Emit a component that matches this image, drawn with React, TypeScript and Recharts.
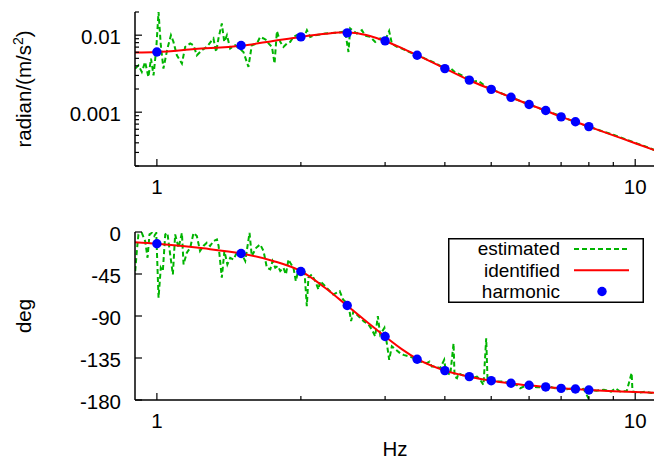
import React from "react";
import { ComposedChart, Line, XAxis, YAxis, Legend } from "recharts";

const FONT = "'Liberation Sans', Arial, Helvetica, sans-serif";
const FS = 20.5;
const LEGEND_FS = 19;
const GREEN = "#00b400";
const RED = "#ff0000";
const BLUE = "#0000ff";

const FREQ_TICKS = [1, 2, 3, 4, 5, 6, 7, 8, 9, 10];
const FREQ_LABELS = [1, 10];
const MAG_TICKS = [
  0.0002, 0.0003, 0.0004, 0.0005, 0.0006, 0.0007, 0.0008, 0.0009, 0.001,
  0.002, 0.003, 0.004, 0.005, 0.006, 0.007, 0.008, 0.009, 0.01, 0.02,
];
const MAG_LABELS = [0.001, 0.01];
const PHASE_TICKS = [-180, -135, -90, -45, 0];

const HARM_FREQ = [1, 1.5, 2, 2.5, 3, 3.5, 4, 4.5, 5, 5.5, 6, 6.5, 7, 7.5, 8];
const HARM_MAG = [
  0.00605, 0.00734, 0.0095, 0.01071, 0.00843, 0.00548, 0.00368, 0.00261,
  0.00198, 0.00156, 0.00126, 0.00105, 0.00087, 0.00075, 0.00065,
];
const HARM_PHASE = [
  -12.6, -23, -42.3, -78.8, -112, -136.3, -148.5, -155, -159.3, -162, -164.2,
  -166, -167.5, -168.2, -169.3,
];

// identified model response
const ID_MAG: [number, number][] = [
  [0.9, 0.00595], [1.0, 0.00605], [1.2, 0.0066], [1.5, 0.0073], [1.75, 0.0084],
  [2.0, 0.0095], [2.25, 0.0104], [2.4, 0.0108], [2.5, 0.01085], [2.6, 0.0107],
  [2.8, 0.0097], [3.0, 0.0084], [3.25, 0.0068], [3.5, 0.0055], [4.0, 0.0037],
  [4.5, 0.0026], [5.0, 0.00198], [5.5, 0.00156], [6.0, 0.00126], [6.5, 0.00105],
  [7.0, 0.00087], [7.5, 0.00075], [8.0, 0.00065], [9.0, 0.0005], [10.0, 0.000395],
  [11.0, 0.00032],
];
const ID_PHASE: [number, number][] = [
  [0.9, -11], [1.0, -12.6], [1.25, -17.5], [1.5, -23], [1.75, -31], [2.0, -42],
  [2.25, -60], [2.5, -79], [2.75, -96.5], [3.0, -112], [3.25, -125.5], [3.5, -136],
  [4.0, -148.5], [4.5, -155], [5.0, -159.3], [5.5, -162.2], [6.0, -164.3],
  [6.5, -166], [7.0, -167.4], [7.5, -168.4], [8.0, -169.3], [9.0, -170.6],
  [10.0, -171.5], [11.0, -172.2],
];

// estimated (noisy) response
const EST_MAG: [number, number][] = [
  [0.901, 0.00368], [0.915, 0.00406], [0.93, 0.00333], [0.945, 0.00449],
  [0.96, 0.00286], [0.972, 0.00497], [0.984, 0.00301], [0.997, 0.00671],
  [1.008, 0.02], [1.019, 0.00741], [1.032, 0.00368], [1.052, 0.00671],
  [1.07, 0.01], [1.083, 0.00818], [1.101, 0.00548], [1.128, 0.00428],
  [1.146, 0.00705], [1.174, 0.0078], [1.193, 0.00741], [1.212, 0.00548],
  [1.242, 0.00637], [1.272, 0.00705], [1.313, 0.00906], [1.33, 0.00605],
  [1.345, 0.00906], [1.367, 0.01422], [1.383, 0.00818], [1.401, 0.01],
  [1.423, 0.00671], [1.458, 0.00741], [1.517, 0.00605], [1.554, 0.00387],
  [1.579, 0.00741], [1.619, 0.0078], [1.644, 0.0095], [1.671, 0.00906],
  [1.698, 0.0086], [1.712, 0.0078], [1.74, 0.00705], [1.762, 0.00428],
  [1.782, 0.01128], [1.811, 0.00818], [1.839, 0.00705], [1.87, 0.0078],
  [1.9, 0.00818], [1.93, 0.0095], [1.962, 0.01], [2.025, 0.00906],
  [2.059, 0.01162], [2.092, 0.0095], [2.143, 0.01], [2.194, 0.0102],
  [2.248, 0.0105], [2.322, 0.0107], [2.397, 0.0108], [2.475, 0.0113],
  [2.515, 0.00605], [2.536, 0.01222], [2.576, 0.0113], [2.619, 0.0105],
  [2.683, 0.01162], [2.726, 0.0098], [2.792, 0.0095], [2.86, 0.00818],
  [2.93, 0.00906], [3.001, 0.0086], [3.059, 0.0113], [3.099, 0.0078],
  [3.176, 0.00705], [3.252, 0.00671], [3.4, 0.0059], [3.6, 0.0051],
  [3.8, 0.0044], [4.0, 0.0037], [4.1, 0.0038], [4.2, 0.0033], [4.4, 0.0029],
  [4.6, 0.0025], [4.7, 0.00255], [4.9, 0.0021], [5.2, 0.0018], [5.5, 0.00156],
  [5.8, 0.00137], [6.1, 0.00122], [6.4, 0.00108], [6.8, 0.00095], [7.2, 0.00082],
  [7.6, 0.00072], [8.0, 0.00065], [8.5, 0.00057], [9.0, 0.00051], [9.5, 0.00045],
  [10.0, 0.0004], [10.5, 0.00036], [11.0, 0.00032],
];
const EST_PHASE: [number, number][] = [
  [0.901, -41.9], [0.908, -20.4], [0.915, -2.6], [0.93, -1], [0.945, -9.7],
  [0.956, -27.6], [0.965, -2.6], [0.976, -1], [0.987, -4.3], [0.997, -1],
  [1.008, -70.5], [1.019, -38.3], [1.029, -41.9], [1.041, -2.6], [1.052, -1],
  [1.066, -24], [1.08, -45.5], [1.092, -2.6], [1.11, -16.9], [1.128, -1],
  [1.137, -34.7], [1.155, -22.2], [1.174, -16.9], [1.193, -1], [1.212, -4.3],
  [1.231, -20.4], [1.251, -15], [1.272, -11.5], [1.292, -15], [1.313, -9.7],
  [1.335, -7.9], [1.346, -15], [1.367, -49], [1.384, -20.4], [1.404, -34.7],
  [1.423, -27.6], [1.446, -29.4], [1.469, -22.2], [1.493, -20.4], [1.53, -31.1],
  [1.562, -1], [1.579, -25.8], [1.613, -16.9], [1.644, -13.3], [1.671, -20.4],
  [1.698, -38.3], [1.726, -40.1], [1.745, -31.1], [1.768, -38.3], [1.79, -36.5],
  [1.811, -41.9], [1.839, -38.3], [1.861, -45.5], [1.884, -29.4], [1.9, -33],
  [1.93, -38.3], [1.952, -52.6], [1.977, -40.1], [2.009, -45.5], [2.036, -43.7],
  [2.058, -79.4], [2.074, -49], [2.108, -45.5], [2.143, -52.6], [2.177, -61.6],
  [2.194, -52.6], [2.248, -58], [2.282, -61.6], [2.337, -67], [2.373, -65.2],
  [2.411, -63.4], [2.45, -72.3], [2.515, -77.7], [2.547, -95.5], [2.576, -84.8],
  [2.64, -90.2], [2.705, -95.5], [2.771, -99.2], [2.815, -104.5], [2.86, -111.7],
  [2.897, -90.2], [2.93, -109.9], [2.99, -102.7], [3.024, -118.8], [3.06, -137],
  [3.099, -122.4], [3.226, -129.9], [3.278, -131.7], [3.385, -133.5],
  [3.552, -138.9], [3.667, -140.6], [3.715, -138.9], [3.757, -144.2],
  [3.818, -144.2], [3.911, -146], [3.987, -137], [4.02, -149.6], [4.105, -153.2],
  [4.171, -119.2], [4.191, -155], [4.24, -156.7], [4.272, -151.4], [4.342, -153.2],
  [4.448, -155], [4.556, -156.7], [4.667, -155], [4.742, -158.5], [4.818, -163.9],
  [4.881, -113.8], [4.912, -158.5], [5.017, -160.3], [5.139, -160.3],
  [5.305, -160.3], [5.479, -162.1], [5.657, -163.9], [5.749, -167.4],
  [5.888, -165], [6.032, -165.7], [6.23, -166.4], [6.4, -166.5], [6.6, -165.5],
  [6.8, -167.5], [7.0, -167], [7.2, -168.5], [7.4, -167.5], [7.6, -169],
  [7.8, -168], [7.98, -178], [8.05, -169.5], [8.3, -170], [8.6, -169],
  [8.9, -171], [9.1, -167.5], [9.3, -171], [9.6, -170.5], [9.83, -151],
  [9.87, -171], [10.2, -172], [10.5, -171], [10.8, -172.5], [11.0, -172],
];

const pts = (arr: [number, number][]) => arr.map(([f, v]) => ({ f, v }));
const harm = (vals: number[]) => HARM_FREQ.map((f, i) => ({ f, v: vals[i] }));

const axisLine = { stroke: "#000", strokeWidth: 1.5 };

// gnuplot-style ticks: pointing inward, labels only on major ticks
function axisTick(side: string, labels: number[]) {
  return (p: any) => {
    const v = p.payload.value;
    const major = labels.includes(v);
    const len = major ? 7 : 4;
    const { x, y } = p;
    let l = [x, y, x, y - len];
    if (side === "top") l = [x, y, x, y + len];
    if (side === "left") l = [x, y, x + len, y];
    if (side === "right") l = [x, y, x - len, y];
    return (
      <g>
        <line x1={l[0]} y1={l[1]} x2={l[2]} y2={l[3]} stroke="#000" strokeWidth={1.2} />
        {major && side === "bottom" && (
          <text x={x} y={y + 28} textAnchor="middle" fontFamily={FONT} fontSize={FS} fill="#000">
            {v}
          </text>
        )}
        {major && side === "left" && (
          <text x={x - 14} y={y + 9} textAnchor="end" fontFamily={FONT} fontSize={FS} fill="#000">
            {v}
          </text>
        )}
      </g>
    );
  };
}

function yTitle(kind: "mag" | "phase") {
  return (p: any) => {
    const vb = p.viewBox;
    const cy = vb.y + vb.height / 2;
    return (
      <text x={31} y={cy} transform={`rotate(-90 31 ${cy})`} textAnchor="middle" fontFamily={FONT} fontSize={FS} fill="#000">
        {kind === "mag" ? (
          <>
            radian/(m/s<tspan dy={-8} fontSize={14}>2</tspan>
            <tspan dy={8}>)</tspan>
          </>
        ) : (
          "deg"
        )}
      </text>
    );
  };
}

function xTitle(p: any) {
  const vb = p.viewBox;
  return (
    <text x={vb.x + vb.width / 2} y={vb.y + 56} textAnchor="middle" fontFamily={FONT} fontSize={FS} fill="#000">
      Hz
    </text>
  );
}

function LegendBox() {
  const tx = 112;
  return (
    <svg width={196} height={65} style={{ display: "block", overflow: "visible" }}>
      <rect x={0.75} y={0.75} width={194.5} height={63.5} fill="none" stroke="#000" strokeWidth={1.5} />
      <g fontFamily={FONT} fontSize={LEGEND_FS} fill="#000" textAnchor="end">
        <text x={tx} y={17.4}>estimated</text>
        <text x={tx} y={38.7}>identified</text>
        <text x={tx} y={60}>harmonic</text>
      </g>
      <line x1={126} x2={181} y1={11} y2={11} stroke={GREEN} strokeWidth={2} strokeDasharray="5 3" />
      <line x1={126} x2={181} y1={32.2} y2={32.2} stroke={RED} strokeWidth={2} />
      <circle cx={154} cy={53.5} r={4.7} fill={BLUE} />
    </svg>
  );
}

export default function App() {
  const xCommon = {
    dataKey: "f",
    type: "number" as const,
    scale: "log" as const,
    domain: [0.9, 11],
    allowDataOverflow: true,
    ticks: FREQ_TICKS,
    interval: 0 as const,
    tickSize: 0,
    tickMargin: 0,
    tickLine: false,
    axisLine,
  };
  const dot = { r: 4.7, fill: BLUE, stroke: "none", strokeWidth: 0 };

  return (
    <div
      style={{
        position: "fixed",
        left: 0,
        top: 0,
        width: 654,
        height: 459,
        overflow: "hidden",
        background: "#fff",
        fontFamily: FONT,
      }}
    >
      <div style={{ position: "absolute", left: 0, top: 0 }}>
        <ComposedChart width={660} height={200} margin={{ top: 12, right: 5, bottom: 0, left: 0 }}>
          <XAxis {...xCommon} xAxisId="b" orientation="bottom" height={34} tick={axisTick("bottom", FREQ_LABELS)} />
          <XAxis {...xCommon} xAxisId="t" orientation="top" height={0} tick={axisTick("top", FREQ_LABELS)} />
          <YAxis
            yAxisId="l"
            type="number"
            scale="log"
            domain={[0.0002, 0.02]}
            allowDataOverflow
            ticks={MAG_TICKS}
            interval={0}
            tickSize={0}
            tickMargin={0}
            tickLine={false}
            axisLine={axisLine}
            width={135}
            tick={axisTick("left", MAG_LABELS)}
            label={yTitle("mag")}
          />
          <YAxis
            yAxisId="r"
            orientation="right"
            type="number"
            scale="log"
            domain={[0.0002, 0.02]}
            allowDataOverflow
            ticks={MAG_TICKS}
            interval={0}
            tickSize={0}
            tickMargin={0}
            tickLine={false}
            axisLine={axisLine}
            width={0}
            tick={axisTick("right", MAG_LABELS)}
          />
          <Line xAxisId="b" yAxisId="l" data={pts(EST_MAG)} dataKey="v" name="estimated" type="linear" stroke={GREEN} strokeWidth={2} strokeDasharray="5 3" dot={false} activeDot={false} isAnimationActive={false} />
          <Line xAxisId="b" yAxisId="l" data={pts(ID_MAG)} dataKey="v" name="identified" type="monotone" stroke={RED} strokeWidth={2} dot={false} activeDot={false} isAnimationActive={false} />
          <Line xAxisId="b" yAxisId="l" data={harm(HARM_MAG)} dataKey="v" name="harmonic" stroke="none" dot={dot} activeDot={false} isAnimationActive={false} />
        </ComposedChart>
      </div>
      <div style={{ position: "absolute", left: 0, top: 220 }}>
        <ComposedChart width={660} height={239} margin={{ top: 12, right: 5, bottom: 0, left: 0 }}>
          <XAxis {...xCommon} xAxisId="b" orientation="bottom" height={59} tick={axisTick("bottom", FREQ_LABELS)} label={xTitle} />
          <XAxis {...xCommon} xAxisId="t" orientation="top" height={0} tick={axisTick("top", FREQ_LABELS)} />
          <YAxis
            yAxisId="l"
            type="number"
            domain={[-180, 0]}
            allowDataOverflow
            ticks={PHASE_TICKS}
            interval={0}
            tickSize={0}
            tickMargin={0}
            tickLine={false}
            axisLine={axisLine}
            width={135}
            tick={axisTick("left", PHASE_TICKS)}
            label={yTitle("phase")}
          />
          <YAxis
            yAxisId="r"
            orientation="right"
            type="number"
            domain={[-180, 0]}
            allowDataOverflow
            ticks={PHASE_TICKS}
            interval={0}
            tickSize={0}
            tickMargin={0}
            tickLine={false}
            axisLine={axisLine}
            width={0}
            tick={axisTick("right", PHASE_TICKS)}
          />
          <Legend
            layout="vertical"
            align="center"
            verticalAlign="middle"
            content={() => <LegendBox />}
            wrapperStyle={{ left: 447.5, top: 18, width: 196, height: 65 }}
          />
          <Line xAxisId="b" yAxisId="l" data={pts(EST_PHASE)} dataKey="v" name="estimated" type="linear" stroke={GREEN} strokeWidth={2} strokeDasharray="5 3" dot={false} activeDot={false} isAnimationActive={false} />
          <Line xAxisId="b" yAxisId="l" data={pts(ID_PHASE)} dataKey="v" name="identified" type="monotone" stroke={RED} strokeWidth={2} dot={false} activeDot={false} isAnimationActive={false} />
          <Line xAxisId="b" yAxisId="l" data={harm(HARM_PHASE)} dataKey="v" name="harmonic" stroke="none" dot={dot} activeDot={false} isAnimationActive={false} />
        </ComposedChart>
      </div>
    </div>
  );
}
